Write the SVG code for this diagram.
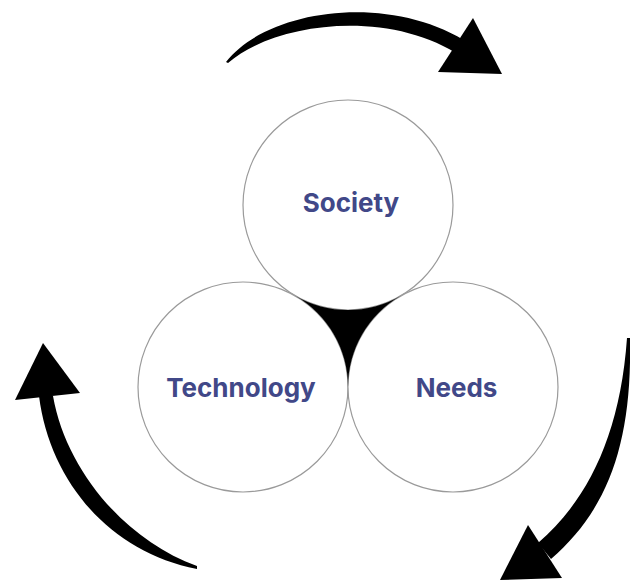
<svg xmlns="http://www.w3.org/2000/svg" width="630" height="583" viewBox="0 0 630 583">
<style>
.node circle{fill:#fff;stroke:#9a9a9a;stroke-width:1.2}
.lbl{font-family:Inter,"Noto Sans",sans-serif;font-weight:700;font-size:26px;fill:#414888;text-anchor:middle}
.arr{fill:#000}
</style>
<rect width="630" height="583" fill="#fff"/>
<g id="society" class="node"><circle cx="348" cy="205" r="105"/><text class="lbl" x="351" y="212">Society</text></g>
<g id="technology" class="node"><circle cx="243" cy="387" r="105"/><text class="lbl" x="241" y="397">Technology</text></g>
<g id="needs" class="node"><circle cx="453" cy="387" r="105"/><text class="lbl" x="456.5" y="397">Needs</text></g>
<g id="core"><path d="M295.5 296 A105 105 0 0 0 400.5 296 A105 105 0 0 0 348 387 A105 105 0 0 0 295.5 296 Z" fill="#000"/></g>
<g id="connectors" class="arr">
<path d="M226 62 C268 8 392 -8 470 44 L462 57 C390 8 275 22 228 63 Z"/>
<polygon points="473,18 438,72 502,74"/>
<path d="M39 396 C50 482 110 552 197 569 L197 566 C125 540 66 470 53 396 Z"/>
<polygon points="43,343 15,400 80,393"/>
<path d="M630 338 C632 440 610 508 551 559 L538 543 C588 500 620 435 627 338 Z"/>
<polygon points="528,525 562,578 500,580"/>
</g>
</svg>
